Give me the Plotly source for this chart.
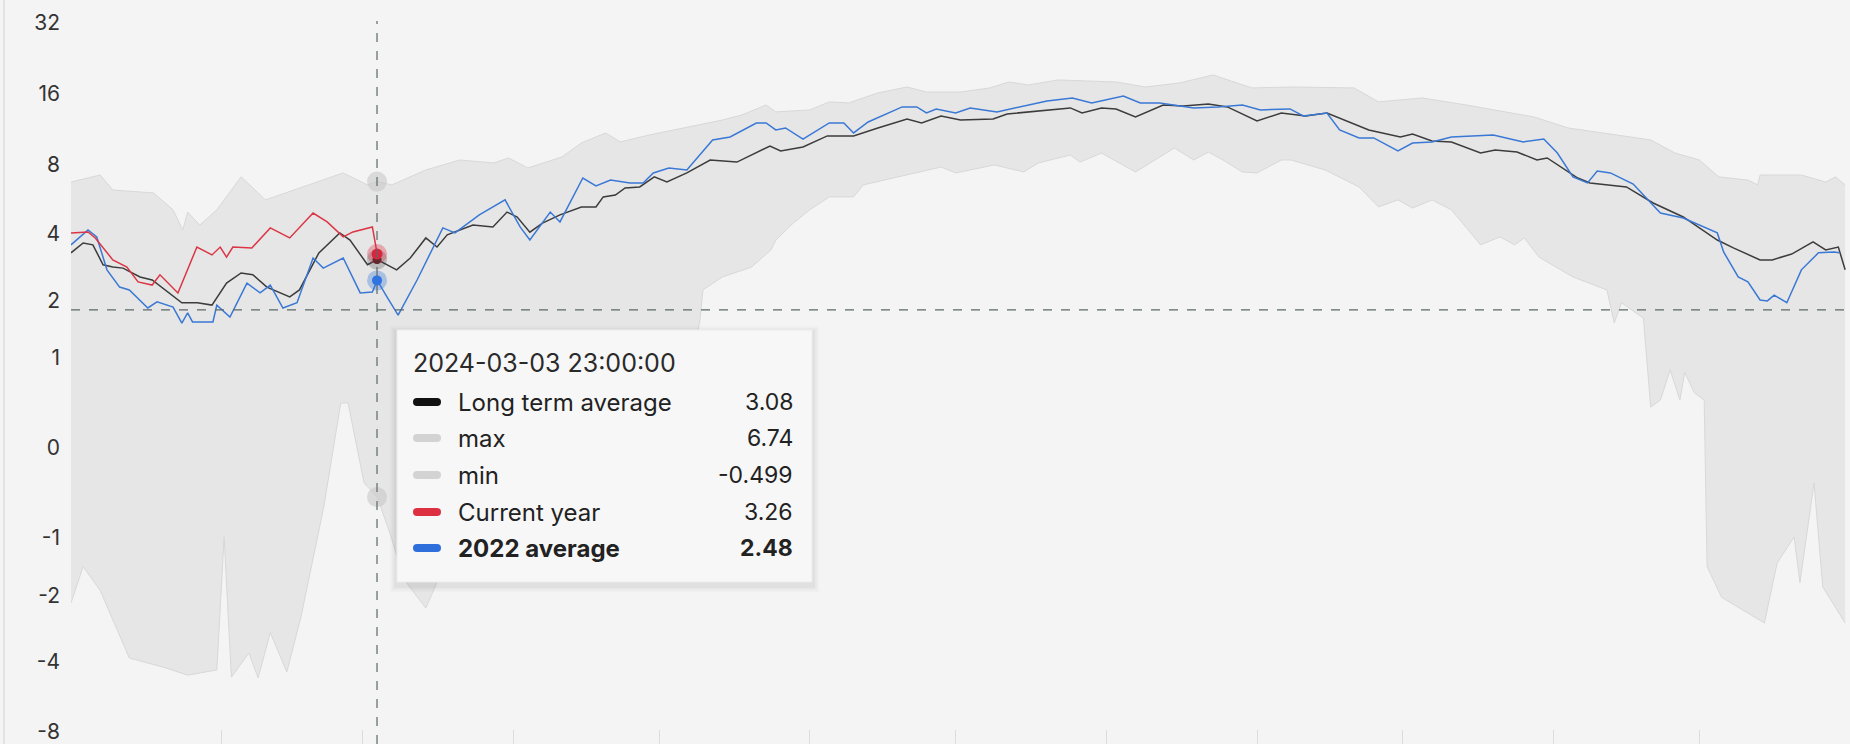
import numpy as np
import pandas as pd
import plotly.graph_objects as go

YEAR_START = "2024-01-01"

# ---- data (day-of-year offsets from 2024-01-01, values) ----
max_days = [0, 6, 8.6, 17, 21, 23, 24, 26.5, 30, 35, 40, 46, 56, 61, 63, 66, 73, 80, 87, 90,
            94, 101, 105, 110, 113, 119, 126, 134, 138, 143, 145, 152, 156, 160, 166, 172, 176, 183, 189, 193,
            197, 203, 215, 221, 228, 235, 238, 243, 251, 264, 269, 273, 278, 287, 301, 308, 315, 325, 330, 335,
            339, 345, 347, 347.5, 356, 361, 363, 365]
max_vals = [6.71, 7.19, 6.20, 6.02, 5.09, 4.16, 4.98, 4.37, 5.09, 7.06, 5.62, 6.20, 7.34, 6.52, 6.74, 6.52, 7.56, 8.34, 8.10, 8.51,
            7.71, 8.59, 9.86, 10.88, 9.96, 10.67, 11.43, 12.35, 12.98, 14.32, 13.38, 13.64, 14.76, 14.61, 16.11, 17.08, 16.26, 16.26, 16.92, 17.94,
            17.42, 18.30, 17.94, 17.08, 17.76, 19.22, 18.30, 16.92, 17.08, 16.92, 14.76, 15.04, 15.34, 14.32, 12.73, 11.43, 10.88, 10.16, 8.93, 8.34,
            7.06, 6.84, 6.52, 7.19, 7.19, 6.71, 7.06, 6.52]

min_days = [0, 2.5, 6, 12, 19, 24, 30, 31.5, 33, 36.6, 38.5, 41, 44.4, 47.3, 52, 55.5, 57, 60.3, 63, 65.6,
            68.5, 73, 78, 85, 95, 105, 115, 122, 128, 129.4, 130, 134, 140, 144, 145, 148.6, 152, 156, 161, 163,
            169, 176, 179, 182, 187, 190, 196, 199, 205.6, 207.6, 212, 219, 227, 231, 234, 237, 241, 244, 249, 251,
            258, 265, 269, 273, 276, 280, 284, 290, 294, 297, 299, 302, 309, 316, 317.5, 319, 323.5, 325, 327, 329,
            331, 332, 334, 336, 336.6, 339.6, 348.4, 351, 354.5, 355.7, 358.6, 360.4, 365]
min_vals = [-2.17, -1.44, -1.89, -3.84, -4.21, -4.56, -4.33, -0.985, -4.65, -3.65, -4.69, -2.96, -4.42, -2.52, -0.61, 0.455, 0.455, -0.349, -0.499, -0.93,
            -1.67, -2.29, -1.2, -0.6, -0.3, 0.1, 0.4, 0.7, 1.0, 1.61, 2.24, 2.57, 2.85, 3.40, 3.76, 4.46, 5.09, 5.79, 5.79, 6.52,
            6.98, 7.56, 7.78, 7.34, 7.71, 7.94, 7.41, 8.10, 8.76, 8.17, 8.93, 7.41, 9.38, 8.34, 9.02, 8.34, 7.41, 7.34, 8.34, 8.34,
            7.56, 6.39, 5.24, 5.62, 5.18, 5.62, 5.09, 3.58, 3.88, 3.58, 3.84, 3.16, 2.57, 2.24, 1.55, 1.95, 1.64, 0.41, 0.487, 0.84,
            0.487, 0.81, 0.565, 0.487, -1.44, -2.04, -2.68, -1.38, -0.985, -1.73, -0.349, -1.82, -2.68]

lta_days = [0, 2.5, 4.5, 6.6, 8.6, 10.7, 14.2, 16.7, 22.8, 26, 29, 32, 35, 37.4, 40.3, 45, 47, 51, 55.3, 57.4,
            61, 63, 67, 69.8, 73, 75.3, 77.4, 80, 82.7, 86.8, 89.7, 91.8, 94.4, 97, 100.6, 105, 108, 109.5, 112, 114,
            117, 120, 122.6, 126.7, 131.5, 137, 143.8, 146, 150.6, 155.6, 161, 166, 172, 175, 179, 183, 189.7, 192.6, 200.8, 205.6,
            208, 212, 215, 219, 224.7, 228.8, 234, 237.9, 244, 249, 254, 258.4, 267, 273.5, 276, 280, 284, 290, 293, 297.5,
            301.6, 303.7, 310, 312.5, 320, 325.5, 331.7, 338.7, 342, 347.5, 350, 354, 358.4, 361, 363.6, 365]
lta_vals = [3.30, 3.65, 3.58, 2.92, 2.85, 2.82, 2.57, 2.49, 1.95, 1.95, 1.90, 2.41, 2.68, 2.63, 2.31, 2.08, 2.24, 3.30, 4.04, 3.76,
            2.92, 3.08, 2.77, 3.13, 3.84, 3.50, 3.96, 4.16, 4.37, 4.29, 4.98, 4.74, 4.07, 4.46, 4.84, 5.24, 5.24, 5.79, 5.90, 6.33,
            6.39, 7.06, 6.71, 7.34, 8.34, 8.17, 9.57, 9.12, 9.48, 10.57, 10.57, 11.43, 12.48, 12.00, 12.86, 12.35, 12.48, 13.11, 13.64, 13.91,
            13.24, 13.91, 13.77, 12.73, 14.32, 14.18, 14.46, 14.05, 12.24, 13.24, 12.86, 13.24, 11.21, 10.46, 10.77, 10.06, 9.96, 8.93, 9.21, 9.02,
            8.34, 8.51, 6.98, 6.65, 6.39, 5.45, 4.74, 3.76, 3.47, 3.07, 3.07, 3.26, 3.69, 3.40, 3.50, 2.77]

y2022_days = [0, 3.5, 5.3, 7.4, 10, 12, 15.8, 17.7, 21, 22.8, 24, 25, 29.2, 30, 32.7, 36.2, 38.9, 41, 43.6, 46.5,
              49.8, 51.9, 56, 59.5, 62, 63, 65, 67.3, 71.2, 76.5, 79, 84, 89.3, 92.4, 94.4, 98.6, 100.6, 105.3, 108, 111,
              115, 117.7, 119.8, 123, 126.7, 129.4, 132, 135.6, 141, 143, 145, 147, 150.6, 156, 159, 161, 164, 171, 174, 176,
              178, 182, 185, 190.5, 196.7, 200.8, 206, 210, 216.5, 220, 224, 231, 236, 241, 244.7, 250.8, 253.5, 258.4, 261, 265,
              268, 273, 276, 280, 284, 292.6, 298.8, 303, 305.8, 309, 312, 314, 316.7, 321.4, 327, 331.7, 338.7, 340, 343, 345,
              347.5, 349, 350.4, 353, 356, 359.5, 362.7, 363.8]
y2022_vals = [3.58, 4.16, 3.88, 2.77, 2.31, 2.24, 1.84, 1.97, 1.86, 1.55, 1.74, 1.57, 1.57, 1.90, 1.66, 2.41, 2.17, 2.36, 1.84, 1.95,
              3.13, 2.82, 3.13, 2.17, 2.19, 2.48, 2.08, 1.70, 2.49, 4.25, 4.04, 4.84, 5.62, 4.29, 3.76, 4.98, 4.51, 6.98, 6.46, 6.84,
              6.65, 6.65, 7.34, 7.71, 7.56, 8.76, 10.16, 10.46, 12.00, 12.00, 11.21, 11.43, 10.25, 12.00, 12.00, 10.88, 12.12, 14.05, 14.05, 13.24,
              13.77, 13.24, 13.91, 13.38, 14.32, 14.89, 15.34, 14.61, 15.64, 14.61, 14.61, 13.91, 14.05, 14.32, 13.64, 13.77, 12.86, 13.24, 11.21, 10.36,
              10.36, 9.12, 9.86, 9.96, 10.46, 10.67, 9.96, 10.25, 8.93, 7.06, 6.65, 7.48, 7.34, 6.58, 4.93, 4.69, 4.04, 3.33, 2.57, 2.44,
              2.01, 1.99, 2.12, 1.95, 2.77, 3.30, 3.33, 3.30]

cur_days = [0, 3.5, 5, 8.6, 11.5, 13.8, 16.7, 18.3, 22, 25.9, 29, 30.7, 32, 33.3, 37.2, 41, 45, 49.8, 52.7, 56, 58, 62, 63]
cur_vals = [4.04, 4.08, 3.84, 3.07, 2.85, 2.44, 2.36, 2.63, 2.17, 3.50, 3.23, 3.50, 3.16, 3.50, 3.47, 4.25, 3.84, 4.93, 4.51, 3.88, 4.08, 4.29, 3.26]

tick_labels = [32, 16, 8, 4, 2, 1, 0, -1, -2, -4, -8]

hover_time = "2024-03-03 23:00:00"
hover_names = ["Long term average", "max", "min", "Current year", "2022 average"]
hover_vals = [3.08, 6.74, -0.499, 3.26, 2.48]
hover_text = ["3.08", "6.74", "-0.499", "3.26", "2.48"]
crosshair_y = 1.8

# ---- helpers ----
def to_dates(days):
    return pd.Timestamp(YEAR_START) + pd.to_timedelta(np.array(days, dtype=float), unit="D")

def tr(v):
    return np.arcsinh(np.array(v, dtype=float))

C_BG = "#f4f4f4"
C_BAND = "#e6e6e6"
C_BAND_EDGE = "#d8d8d8"
C_LTA = "#3c3c3c"
C_BLUE = "#3a78d6"
C_RED = "#dc3545"

W, H = 1850, 744
L = 71
PW = W - L

def px(x):
    return (x - L) / PW

def py(y):
    return 1 - y / H

fig = go.Figure()

fig.add_trace(go.Scatter(x=to_dates(max_days), y=tr(max_vals), mode="lines",
                         line=dict(color=C_BAND_EDGE, width=1), hoverinfo="skip", showlegend=False))
fig.add_trace(go.Scatter(x=to_dates(min_days), y=tr(min_vals), mode="lines",
                         line=dict(color=C_BAND_EDGE, width=1), fill="tonexty", fillcolor=C_BAND,
                         hoverinfo="skip", showlegend=False))
fig.add_trace(go.Scatter(x=to_dates(lta_days), y=tr(lta_vals), mode="lines",
                         line=dict(color=C_LTA, width=1.5), showlegend=False))
fig.add_trace(go.Scatter(x=to_dates(y2022_days), y=tr(y2022_vals), mode="lines",
                         line=dict(color=C_BLUE, width=1.5), showlegend=False))
fig.add_trace(go.Scatter(x=to_dates(cur_days), y=tr(cur_vals), mode="lines",
                         line=dict(color=C_RED, width=1.5), showlegend=False))

# hover markers
ht = pd.Timestamp(hover_time)
halo_cols = ["rgba(60,60,60,0.25)", "rgba(200,200,200,0.6)", "rgba(200,200,200,0.6)",
             "rgba(220,53,69,0.35)", "rgba(58,120,214,0.35)"]
core_cols = ["#222222", "#dadada", "#dadada", "#d7263d", "#2f74e0"]
core_sizes = [9, 0, 0, 11, 10]
for v, hc, cc, cs in zip(hover_vals, halo_cols, core_cols, core_sizes):
    fig.add_trace(go.Scatter(x=[ht], y=tr([v]), mode="markers",
                             marker=dict(size=20, color=hc, line=dict(width=0)),
                             hoverinfo="skip", showlegend=False))
    if cs:
        fig.add_trace(go.Scatter(x=[ht], y=tr([v]), mode="markers",
                                 marker=dict(size=cs, color=cc, line=dict(width=0)),
                                 hoverinfo="skip", showlegend=False))

shapes = []
# left border line
shapes.append(dict(type="line", xref="paper", yref="paper", x0=px(4), x1=px(4), y0=0, y1=1,
                   line=dict(color="#dedede", width=1.5)))
# crosshairs
shapes.append(dict(type="line", xref="x", yref="paper", x0=ht, x1=ht, y0=0, y1=py(21),
                   line=dict(color="#5b6868", width=1.2, dash="dash")))
shapes.append(dict(type="line", xref="paper", yref="y", x0=0, x1=1, y0=float(tr([crosshair_y])[0]),
                   y1=float(tr([crosshair_y])[0]), line=dict(color="#5b6868", width=1.2, dash="dash")))

# tooltip box with soft shadow
bx0, bx1, by0, by1 = 397, 812, 330, 582
for i, a in enumerate([0.02, 0.025, 0.035]):
    d = 7 - 2 * i
    shapes.append(dict(type="rect", xref="paper", yref="paper", layer="above",
                       x0=px(bx0 - d), x1=px(bx1 + d), y0=py(by1 + d + 3), y1=py(by0 - d + 3),
                       fillcolor=f"rgba(0,0,0,{a})", line=dict(width=0)))
shapes.append(dict(type="rect", xref="paper", yref="paper", layer="above",
                   x0=px(bx0), x1=px(bx1), y0=py(by1), y1=py(by0),
                   fillcolor="#f7f7f7", line=dict(color="#ececec", width=1)))

FONT = "Inter"
TT_SIZE = 24
annotations = []
annotations.append(dict(xref="paper", yref="paper", x=px(411), y=py(363), xanchor="left", yanchor="middle",
                        text=hover_time, showarrow=False,
                        font=dict(family=FONT, size=25, color="#2a2a2a")))
swatch_cols = ["#111111", "#d3d3d3", "#d3d3d3", "#dc2f41", "#2f6fdc"]
row_y = [402, 438, 475, 512, 548]
pill = "M -10,-4 L 10,-4 Q 14,-4 14,0 Q 14,4 10,4 L -10,4 Q -14,4 -14,0 Q -14,-4 -10,-4 Z"
for i, (name, val, sc, ry) in enumerate(zip(hover_names, hover_text, swatch_cols, row_y)):
    shapes.append(dict(type="path", xref="paper", yref="paper", layer="above",
                       xsizemode="pixel", ysizemode="pixel", xanchor=px(427), yanchor=py(ry),
                       path=pill, fillcolor=sc, line=dict(width=0)))
    bold = i == len(hover_names) - 1
    t_name = f"<b>{name}</b>" if bold else name
    t_val = f"<b>{val}</b>" if bold else val
    annotations.append(dict(xref="paper", yref="paper", x=px(456), y=py(ry), xanchor="left", yanchor="middle",
                            text=t_name, showarrow=False,
                            font=dict(family=FONT, size=TT_SIZE, color="#222222")))
    annotations.append(dict(xref="paper", yref="paper", x=px(795), y=py(ry), xanchor="right", yanchor="middle",
                            text=t_val, showarrow=False,
                            font=dict(family=FONT, size=23, color="#222222")))

fig.update_layout(
    width=W, height=H,
    margin=dict(l=L, r=0, t=0, b=0),
    paper_bgcolor=C_BG, plot_bgcolor=C_BG,
    showlegend=False,
    hovermode=False,
    shapes=shapes, annotations=annotations,
    xaxis=dict(range=["2024-01-01", "2025-01-01"], showgrid=False, zeroline=False, showline=False,
               ticks="inside", ticklen=14, tickcolor="#dcdcdc", tickwidth=1,
               tick0="2024-01-01", dtick="M1", showticklabels=False),
    yaxis=dict(range=[-2.896, 4.383], showgrid=False, zeroline=False, showline=False,
               tickmode="array", tickvals=tr(tick_labels), ticktext=[str(t) for t in tick_labels],
               ticks="", ticklabelstandoff=10, ticklabeloverflow="allow",
               tickfont=dict(family=FONT, size=21, color="#333333")),
)

fig.write_html("out.html", config={"displayModeBar": False},
               post_script="document.body.style.margin='0';document.body.style.overflow='hidden';")
